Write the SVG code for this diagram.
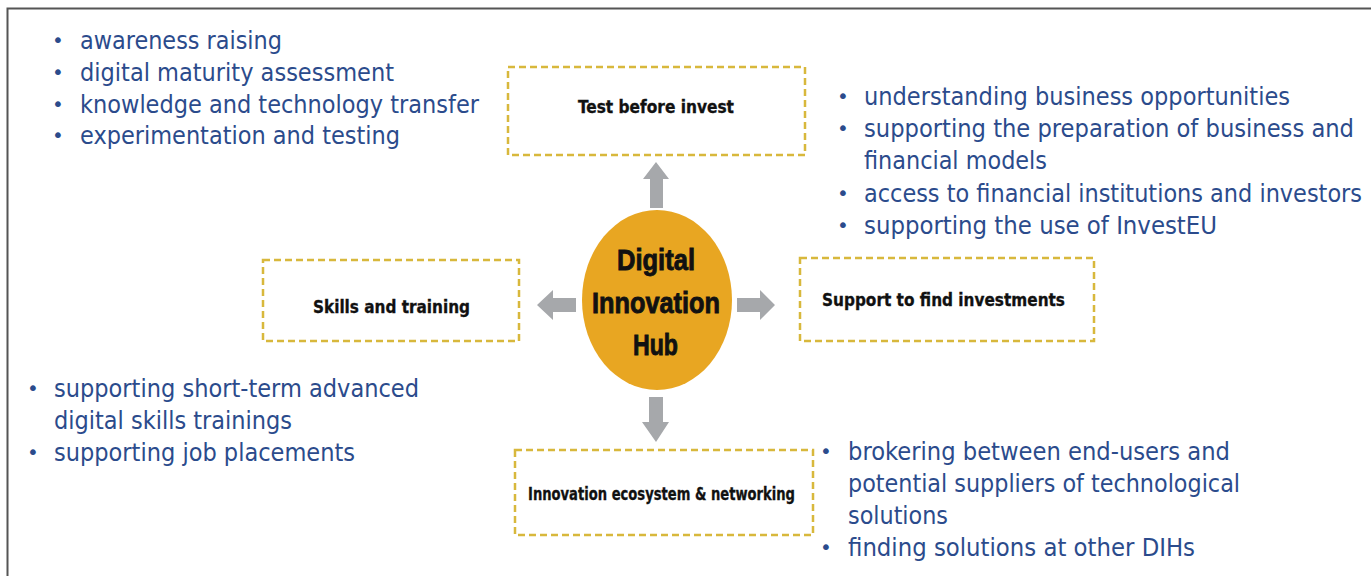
<svg xmlns="http://www.w3.org/2000/svg" width="1371" height="576" viewBox="0 0 1371 576">
<style>
.frame{stroke:#555;stroke-width:2;fill:none}
.box{fill:#fff;stroke:#d8b83c;stroke-width:2.5;stroke-dasharray:7 4}
.lbl{font-family:"DejaVu Sans Condensed","DejaVu Sans",sans-serif;font-stretch:condensed;font-weight:bold;font-size:17px;fill:#111;stroke:#111;stroke-width:0.3}
.body{font-family:"DejaVu Sans Condensed","DejaVu Sans",sans-serif;font-stretch:condensed;font-size:25px;fill:#2b4b8c}
.bul{font-family:"DejaVu Sans",sans-serif;font-size:20px;fill:#2b4b8c;text-anchor:middle}
.hub{font-family:"Liberation Sans Narrow","Liberation Sans",sans-serif;font-weight:bold;font-size:30px;fill:#111;stroke:#111;stroke-width:0.9}
.arr{fill:#a6a8ab}
</style>
<rect width="1371" height="576" fill="#fff"/>
<path class="frame" d="M7.5,576 V8.5 H1371"/>

<g id="connectors">
<polygon class="arr" points="650,208 650,179 643,179 656,162 669,179 663,179 663,208"/>
<polygon class="arr" points="576,298 553,298 553,290 537,305 553,320 553,312 576,312"/>
<polygon class="arr" points="737,298 760,298 760,290 775,305 760,320 760,312 737,312"/>
<polygon class="arr" points="649,397 649,422 642,422 656,442 669,422 663,422 663,397"/>
</g>

<g id="hub">
<ellipse cx="657" cy="300" rx="75" ry="90" fill="#e8a622"/>
<text class="hub" x="617" y="270" textLength="78" lengthAdjust="spacingAndGlyphs">Digital</text>
<text class="hub" x="592" y="313" textLength="128" lengthAdjust="spacingAndGlyphs">Innovation</text>
<text class="hub" x="633" y="355" textLength="45" lengthAdjust="spacingAndGlyphs">Hub</text>
</g>

<g id="test-before-invest">
<rect class="box" x="508" y="67" width="297" height="88"/>
<text class="lbl" x="578" y="113" textLength="156" lengthAdjust="spacingAndGlyphs">Test before invest</text>
</g>

<g id="skills-and-training">
<rect class="box" x="263" y="260" width="256" height="81"/>
<text class="lbl" x="313" y="313" textLength="157" lengthAdjust="spacingAndGlyphs">Skills and training</text>
</g>

<g id="support-investments">
<rect class="box" x="800" y="258" width="294" height="83"/>
<text class="lbl" x="822" y="306" textLength="243" lengthAdjust="spacingAndGlyphs">Support to find investments</text>
</g>

<g id="innovation-ecosystem">
<rect class="box" x="515" y="450" width="298" height="85"/>
<text class="lbl" x="528" y="500" textLength="267" lengthAdjust="spacingAndGlyphs">Innovation ecosystem &amp; networking</text>
</g>

<g id="list-test">
<text class="bul" x="58" y="47">•</text>
<text class="body" x="80" y="49" textLength="202" lengthAdjust="spacingAndGlyphs">awareness raising</text>
<text class="bul" x="58" y="79">•</text>
<text class="body" x="80" y="81" textLength="314" lengthAdjust="spacingAndGlyphs">digital maturity assessment</text>
<text class="bul" x="58" y="111">•</text>
<text class="body" x="80" y="113" textLength="399" lengthAdjust="spacingAndGlyphs">knowledge and technology transfer</text>
<text class="bul" x="58" y="142">•</text>
<text class="body" x="80" y="144" textLength="320" lengthAdjust="spacingAndGlyphs">experimentation and testing</text>
</g>

<g id="list-investments">
<text class="bul" x="843" y="103">•</text>
<text class="body" x="864" y="105" textLength="426" lengthAdjust="spacingAndGlyphs">understanding business opportunities</text>
<text class="bul" x="843" y="135">•</text>
<text class="body" x="864" y="137" textLength="490" lengthAdjust="spacingAndGlyphs">supporting the preparation of business and</text>
<text class="body" x="864" y="169" textLength="183" lengthAdjust="spacingAndGlyphs">financial models</text>
<text class="bul" x="843" y="200">•</text>
<text class="body" x="864" y="202" textLength="498" lengthAdjust="spacingAndGlyphs">access to financial institutions and investors</text>
<text class="bul" x="843" y="232">•</text>
<text class="body" x="864" y="234" textLength="353" lengthAdjust="spacingAndGlyphs">supporting the use of InvestEU</text>
</g>

<g id="list-skills">
<text class="bul" x="33" y="395">•</text>
<text class="body" x="54" y="397" textLength="365" lengthAdjust="spacingAndGlyphs">supporting short-term advanced</text>
<text class="body" x="54" y="429" textLength="238" lengthAdjust="spacingAndGlyphs">digital skills trainings</text>
<text class="bul" x="33" y="459">•</text>
<text class="body" x="54" y="461" textLength="301" lengthAdjust="spacingAndGlyphs">supporting job placements</text>
</g>

<g id="list-ecosystem">
<text class="bul" x="826" y="458">•</text>
<text class="body" x="848" y="460" textLength="382" lengthAdjust="spacingAndGlyphs">brokering between end-users and</text>
<text class="body" x="848" y="492" textLength="392" lengthAdjust="spacingAndGlyphs">potential suppliers of technological</text>
<text class="body" x="848" y="524" textLength="100" lengthAdjust="spacingAndGlyphs">solutions</text>
<text class="bul" x="826" y="554">•</text>
<text class="body" x="848" y="556" textLength="347" lengthAdjust="spacingAndGlyphs">finding solutions at other DIHs</text>
</g>
</svg>
